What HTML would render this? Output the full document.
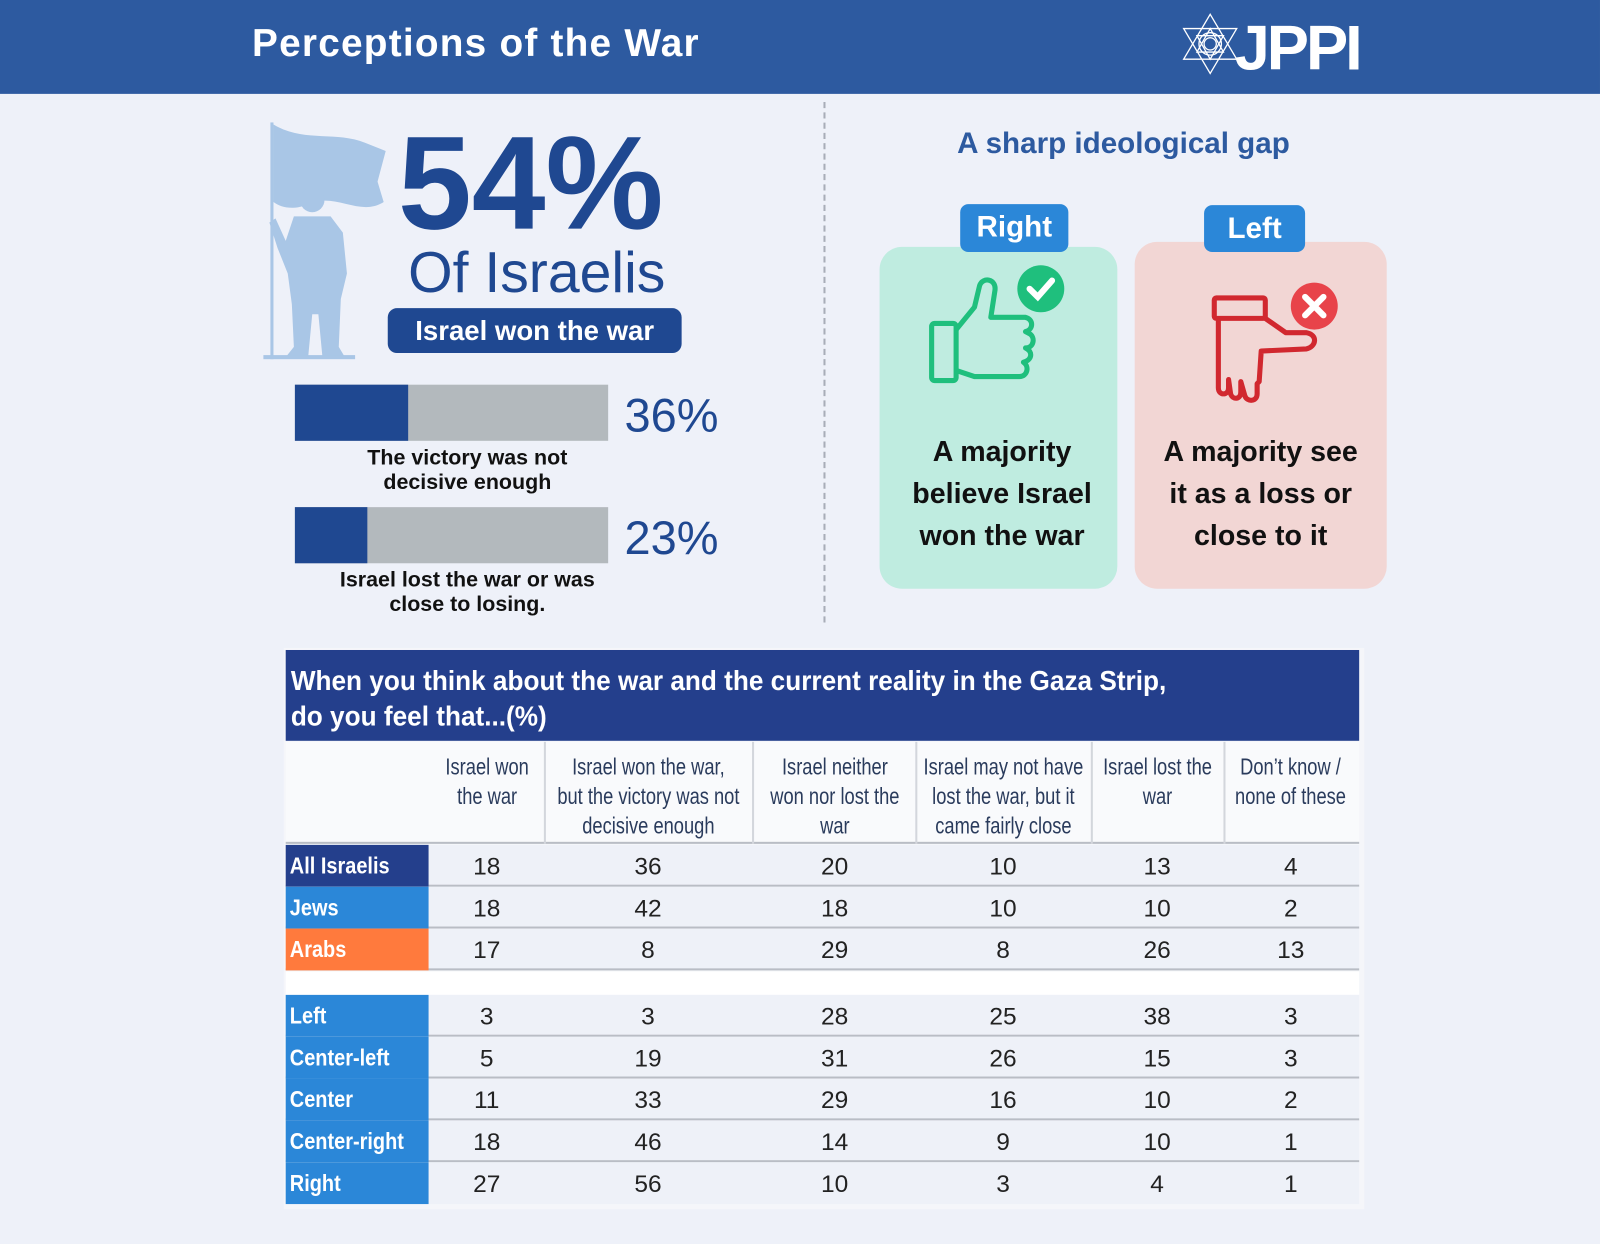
<!DOCTYPE html>
<html><head><meta charset="utf-8"><style>
*{margin:0;padding:0;box-sizing:border-box}
html,body{width:1600px;height:1244px;overflow:hidden;background:#eef1f9;font-family:"Liberation Sans",sans-serif}
#w{position:absolute;left:0;top:0;width:1568px;height:1219px;transform:scale(1.0204);transform-origin:0 0;background:#eef1f9}
.a{position:absolute}
.c{text-align:center}
.cond{display:inline-block;transform:scaleX(0.78);transform-origin:center}
.hd{position:absolute;top:727px;width:300px;height:100px;color:#2a3b5c;font-size:23px;line-height:29px;text-align:center;padding-top:10px;white-space:nowrap}
.row{position:absolute;left:280px;width:1052px;height:41px;border-bottom:2px solid #b9bdc5;background:#eef1f8}
.lab{position:absolute;left:0;top:0;width:140px;height:41px;color:#fff;font-weight:bold;font-size:23px;line-height:41px;padding-left:4px}
.lab span{display:inline-block;transform:scaleX(0.85);transform-origin:left}
.n{position:absolute;top:0;height:41px;line-height:43px;font-size:24px;color:#222;text-align:center;width:80px;margin-left:-40px}
</style></head><body><div id="w">
<div class="a" style="left:0;top:0;width:1568px;height:92px;background:#2d5aa0"></div>
<div class="a" style="left:247px;top:22px;color:#fff;font-weight:bold;font-size:38px;letter-spacing:1.2px">Perceptions of the War</div>
<svg class="a" style="left:1156px;top:12px" width="60" height="62" viewBox="0 0 60 62" fill="none" stroke="#fff" stroke-width="1.3">
<polygon points="30,2 56,46 4,46"/><polygon points="30,60 56,16 4,16"/><circle cx="30" cy="31" r="11"/><circle cx="30" cy="31" r="6"/><polygon points="30,16 43,39 17,39"/><polygon points="30,46 43,23 17,23"/></svg>
<div class="a" style="left:1210px;top:12px;color:#fff;font-weight:bold;font-size:62px;letter-spacing:-3px">JPPI</div>
<div class="a" style="left:807px;top:100px;height:510px;border-left:2px dashed #a8adb8"></div>
<svg class="a" style="left:258px;top:118px" width="125" height="238" viewBox="0 0 125 238" fill="#a9c6e6">
<rect x="7" y="2" width="3" height="232"/>
<path d="M10,4 C40,22 70,10 100,22 L120,30 L112,60 L118,80 C95,95 70,70 45,82 C30,88 18,86 10,80Z"/>
<circle cx="48" cy="78" r="12"/>
<path d="M30,94 L66,94 L78,110 L82,150 L76,175 L74,222 L80,232 L58,232 L54,190 L48,190 L44,232 L22,232 L30,222 L28,180 L24,150 L14,125 L6,100 L12,96 L22,118Z"/>
<rect x="0" y="230" width="90" height="4"/></svg>
<div class="a" style="left:390px;top:104px;color:#1f4891;font-weight:bold;font-size:130px">54%</div>
<div class="a" style="left:400px;top:234px;color:#1f4891;font-size:56px">Of Israelis</div>
<div class="a c" style="left:380px;top:302px;width:288px;height:44px;background:#1f4891;border-radius:9px;color:#fff;font-weight:bold;font-size:27px;line-height:44px">Israel won the war</div>
<div class="a" style="left:289px;top:377px;width:307px;height:55px;background:#b3b9bd"></div>
<div class="a" style="left:289px;top:377px;width:111px;height:55px;background:#1f4891"></div>
<div class="a" style="left:612px;top:380px;color:#1f4891;font-size:46px">36%</div>
<div class="a c" style="left:300px;top:437px;width:316px;font-weight:bold;font-size:21px;line-height:24px;color:#111">The victory was not<br>decisive enough</div>
<div class="a" style="left:289px;top:497px;width:307px;height:55px;background:#b3b9bd"></div>
<div class="a" style="left:289px;top:497px;width:71px;height:55px;background:#1f4891"></div>
<div class="a" style="left:612px;top:500px;color:#1f4891;font-size:46px">23%</div>
<div class="a c" style="left:290px;top:557px;width:336px;font-weight:bold;font-size:21px;line-height:24px;color:#111">Israel lost the war or was<br>close to losing.</div>

<div class="a c" style="left:880px;top:125px;width:442px;color:#2d5aa0;font-weight:bold;font-size:29px">A sharp ideological gap</div>
<div class="a" style="left:862px;top:242px;width:233px;height:335px;background:#bfece0;border-radius:22px"></div>
<div class="a" style="left:1112px;top:237px;width:247px;height:340px;background:#f2d6d4;border-radius:22px"></div>
<div class="a c" style="left:941px;top:200px;width:106px;height:47px;background:#2b87d8;border-radius:8px;color:#fff;font-weight:bold;font-size:29px;line-height:47px">Right</div>
<div class="a c" style="left:1180px;top:201px;width:99px;height:46px;background:#2b87d8;border-radius:8px;color:#fff;font-weight:bold;font-size:29px;line-height:46px">Left</div>
<svg class="a" style="left:905px;top:255px" width="145" height="125" viewBox="0 0 145 125">
<g fill="none" stroke="#1fbf7d" stroke-width="5" stroke-linejoin="round">
<rect x="8" y="62" width="24" height="56" rx="3"/>
<path d="M32,68 L50,46 L55,25 C58,16 72,18 70,30 L66,56 L100,56 C108,58 108,68 100,70 L104,72 C110,76 108,86 100,86 C108,90 106,98 98,100 C104,104 102,114 94,114 L50,114 L32,108"/></g>
<circle cx="115" cy="28" r="23" fill="#1fbf7d"/><path d="M104,28 L112,36 L126,20" fill="none" stroke="#fff" stroke-width="6" stroke-linecap="round"/></svg>
<svg class="a" style="left:1180px;top:270px" width="145" height="130" viewBox="0 0 145 130">
<g fill="none" stroke="#d1282f" stroke-width="5" stroke-linejoin="round">
<rect x="10" y="22" width="50" height="20" rx="2"/>
<path d="M14,42 L14,110 C14,118 24,118 24,110 L24,102 L26,116 C28,122 36,122 36,114 L36,104 L40,118 C42,124 52,124 52,116 L52,106 L54,104 L56,74 L100,72 C110,70 112,58 100,56 L80,56 L60,42"/></g>
<circle cx="108" cy="30" r="23" fill="#e8434a"/><path d="M99,21 L117,39 M117,21 L99,39" stroke="#fff" stroke-width="6" stroke-linecap="round"/></svg>
<div class="a c" style="left:862px;top:422px;width:240px;font-weight:bold;font-size:28px;line-height:41px;color:#111">A majority<br>believe Israel<br>won the war</div>
<div class="a c" style="left:1112px;top:422px;width:247px;font-weight:bold;font-size:28px;line-height:41px;color:#111">A majority see<br>it as a loss or<br>close to it</div>

<div class="a" style="left:278px;top:635px;width:1059px;height:550px;background:#f5f6fa"></div>
<div class="a" style="left:280px;top:637px;width:1052px;height:89px;background:#243f8c"></div>
<div class="a" style="left:285px;top:650px;color:#fff;font-weight:bold;font-size:27px;line-height:35px;white-space:nowrap;transform:scaleX(0.95);transform-origin:left">When you think about the war and the current reality in the Gaza Strip,<br>do you feel that...(%)</div>
<div class="a" style="left:280px;top:727px;width:1052px;height:100px;background:#f9fafc;border-bottom:2px solid #b9bdc5"></div>
<div class="a" style="left:533px;top:727px;height:100px;border-left:2px solid #d3d6dc"></div>
<div class="a" style="left:737px;top:727px;height:100px;border-left:2px solid #d3d6dc"></div>
<div class="a" style="left:897px;top:727px;height:100px;border-left:2px solid #d3d6dc"></div>
<div class="a" style="left:1069px;top:727px;height:100px;border-left:2px solid #d3d6dc"></div>
<div class="a" style="left:1199px;top:727px;height:100px;border-left:2px solid #d3d6dc"></div>
<div class="hd" style="left:327px"><span class="cond">Israel won<br>the war</span></div>
<div class="hd" style="left:485px"><span class="cond">Israel won the war,<br>but the victory was not<br>decisive enough</span></div>
<div class="hd" style="left:668px"><span class="cond">Israel neither<br>won nor lost the<br>war</span></div>
<div class="hd" style="left:833px"><span class="cond">Israel may not have<br>lost the war, but it<br>came fairly close</span></div>
<div class="hd" style="left:984px"><span class="cond">Israel lost the<br>war</span></div>
<div class="hd" style="left:1115px"><span class="cond">Don’t know /<br>none of these</span></div>

<div class="row" style="top:828px"><div class="lab" style="background:#243f8c"><span>All Israelis</span></div>
<div class="n" style="left:197px">18</div><div class="n" style="left:355px">36</div><div class="n" style="left:538px">20</div><div class="n" style="left:703px">10</div><div class="n" style="left:854px">13</div><div class="n" style="left:985px">4</div></div>
<div class="row" style="top:869px"><div class="lab" style="background:#2b87d8"><span>Jews</span></div>
<div class="n" style="left:197px">18</div><div class="n" style="left:355px">42</div><div class="n" style="left:538px">18</div><div class="n" style="left:703px">10</div><div class="n" style="left:854px">10</div><div class="n" style="left:985px">2</div></div>
<div class="row" style="top:910px"><div class="lab" style="background:#ff7a3d"><span>Arabs</span></div>
<div class="n" style="left:197px">17</div><div class="n" style="left:355px">8</div><div class="n" style="left:538px">29</div><div class="n" style="left:703px">8</div><div class="n" style="left:854px">26</div><div class="n" style="left:985px">13</div></div>
<div class="a" style="left:280px;top:952px;width:1052px;height:23px;background:#fff"></div>
<div class="row" style="top:975px"><div class="lab" style="background:#2b87d8"><span>Left</span></div>
<div class="n" style="left:197px">3</div><div class="n" style="left:355px">3</div><div class="n" style="left:538px">28</div><div class="n" style="left:703px">25</div><div class="n" style="left:854px">38</div><div class="n" style="left:985px">3</div></div>
<div class="row" style="top:1016px"><div class="lab" style="background:#2b87d8"><span>Center-left</span></div>
<div class="n" style="left:197px">5</div><div class="n" style="left:355px">19</div><div class="n" style="left:538px">31</div><div class="n" style="left:703px">26</div><div class="n" style="left:854px">15</div><div class="n" style="left:985px">3</div></div>
<div class="row" style="top:1057px"><div class="lab" style="background:#2b87d8"><span>Center</span></div>
<div class="n" style="left:197px">11</div><div class="n" style="left:355px">33</div><div class="n" style="left:538px">29</div><div class="n" style="left:703px">16</div><div class="n" style="left:854px">10</div><div class="n" style="left:985px">2</div></div>
<div class="row" style="top:1098px"><div class="lab" style="background:#2b87d8"><span>Center-right</span></div>
<div class="n" style="left:197px">18</div><div class="n" style="left:355px">46</div><div class="n" style="left:538px">14</div><div class="n" style="left:703px">9</div><div class="n" style="left:854px">10</div><div class="n" style="left:985px">1</div></div>
<div class="row" style="top:1139px;border-bottom:none"><div class="lab" style="background:#2b87d8"><span>Right</span></div>
<div class="n" style="left:197px">27</div><div class="n" style="left:355px">56</div><div class="n" style="left:538px">10</div><div class="n" style="left:703px">3</div><div class="n" style="left:854px">4</div><div class="n" style="left:985px">1</div></div>
</div></body></html>
